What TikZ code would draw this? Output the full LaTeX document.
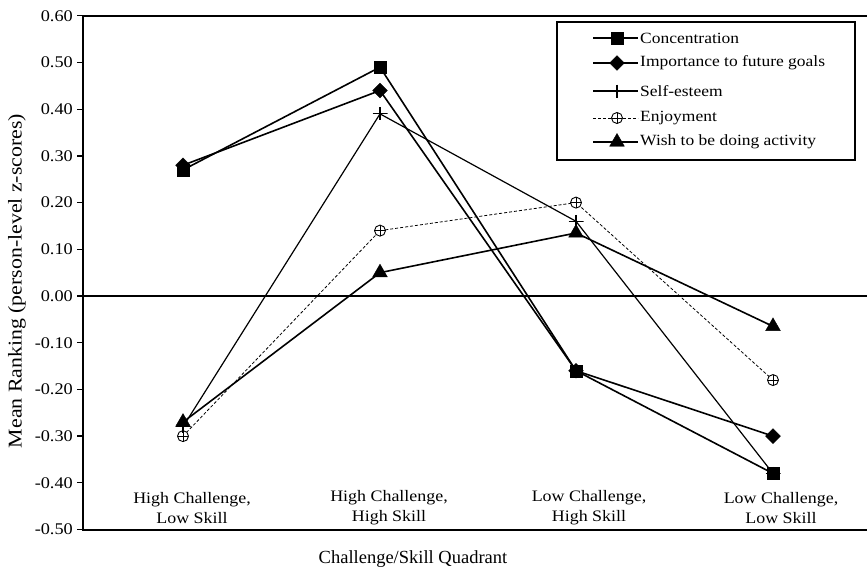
\documentclass[tikz,border=0pt]{standalone}
\usepackage{fontspec}
\setmainfont{Liberation Serif}[FakeStretch=1.12]
\newfontfamily\plainserif{Liberation Serif}
\usetikzlibrary{shapes.geometric,calc}
\begin{document}
\begin{tikzpicture}[x=1pt,y=-1pt,
  axis/.style={line width=1.6pt},
  ser/.style={line width=1.6pt},
  serthin/.style={line width=1.2pt},
  serdash/.style={line width=0.8pt,dash pattern=on 3pt off 2pt},
  sqm/.style={draw,fill=black,rectangle,minimum size=12pt,inner sep=0pt},
  dim/.style={draw,fill=black,diamond,minimum size=15pt,inner sep=0pt},
  trim/.style={draw,fill=black,regular polygon,regular polygon sides=3,minimum size=17pt,inner sep=0pt},
  cirm/.style={draw,fill=white,circle,minimum size=11pt,inner sep=0pt,line width=0.9pt,
    path picture={\draw[line width=0.7pt] (path picture bounding box.north) -- (path picture bounding box.south) (path picture bounding box.west) -- (path picture bounding box.east);}},
  plm/.style={rectangle,minimum width=15pt,minimum height=13pt,inner sep=0pt,
    path picture={\draw[line width=1.1pt] (path picture bounding box.north) -- (path picture bounding box.south) (path picture bounding box.west) -- (path picture bounding box.east);}},
  tick/.style={font=\fontsize{16.3}{18}\selectfont,anchor=east,inner sep=0pt},
  cat/.style={font=\fontsize{16}{20}\selectfont,align=center,inner sep=0pt},
  leg/.style={font=\fontsize{15.6}{18}\selectfont,anchor=west,inner sep=0pt}
]
\useasboundingbox (0,0) rectangle (867,574);
% axes
\coordinate (ytop) at (83,16);
\coordinate (ybot) at (83,530);
\coordinate (rtop) at (867,16);
\coordinate (rbot) at (867,530);
\coordinate (zl) at (83,296);
\coordinate (zr) at (867,296);
\draw[axis] (rtop) -- (ytop) -- (ybot) -- (rbot);
\draw[line width=1.3pt] (zl) -- (zr);
\foreach \v/\t in {0.6/0.60,0.5/0.50,0.4/0.40,0.3/0.30,0.2/0.20,0.1/0.10,0/0.00,-0.1/-0.10,-0.2/-0.20,-0.3/-0.30,-0.4/-0.40,-0.5/-0.50}{
  \coordinate (tk) at (83,{296-467*\v});
  \draw[line width=1.3pt] (tk) -- ++(-6,0);
  \node[tick] at ($(tk)+(-10,0)$) {\t};
}
% data coordinates
\foreach \n/\a/\b/\c/\d in {c/0.27/0.49/-0.16/-0.38, i/0.28/0.44/-0.16/-0.30, s/-0.28/0.39/0.16/-0.38, e/-0.30/0.14/0.20/-0.18, w/-0.27/0.05/0.135/-0.065}{
  \coordinate (\n1) at (183,{296-467*\a});
  \coordinate (\n2) at (380,{296-467*\b});
  \coordinate (\n3) at (576,{296-467*\c});
  \coordinate (\n4) at (773,{296-467*\d});
}
% lines
\draw[serdash] (e1) -- (e2) -- (e3) -- (e4);
\draw[serthin] (s1) -- (s2) -- (s3) -- (s4);
\draw[ser] (w1) -- (w2) -- (w3) -- (w4);
\draw[ser] (i1) -- (i2) -- (i3) -- (i4);
\draw[ser] (c1) -- (c2) -- (c3) -- (c4);
% markers
\foreach \k in {1,2,3,4}{
  \node[cirm] at (e\k) {};
  \node[trim] at (w\k) {};
  \node[plm] at (s\k) {};
  \node[sqm] at (c\k) {};
  \node[dim] at (i\k) {};
}
% legend
\coordinate (lb1) at (557,22);
\coordinate (lb2) at (855,160);
\draw[line width=1.5pt] (lb1) rectangle (lb2);
\foreach \y/\sty/\mk/\txt in {38/ser/sqm/Concentration, 63/ser/dim/Importance to future goals, 91/serthin/plm/Self-esteem, 118/serdash/cirm/Enjoyment, 142/ser/trim/Wish to be doing activity}{
  \coordinate (la) at (593,\y);
  \coordinate (lm) at (617,\y);
  \coordinate (lz) at (638,\y);
  \draw[\sty] (la) -- (lz);
  \node[\mk] at (lm) {};
  \node[leg] at (640,\y) {\txt};
}
% category labels
\node[cat] (q1) at (192,508) {High Challenge,\\Low Skill};
\node[cat] (q2) at (389,508) {High Challenge,\\High Skill};
\node[cat] (q3) at (589,508) {Low Challenge,\\High Skill};
\node[cat] (q4) at (781,508) {Low Challenge,\\Low Skill};
\node[font=\plainserif\fontsize{18.5}{22}\selectfont] (xt) at (413,559) {Challenge/Skill Quadrant};
\node[font=\fontsize{19.5}{22}\selectfont,rotate=90] (yt) at (17,281) {Mean Ranking (person-level z-scores)};
\end{tikzpicture}
\end{document}
